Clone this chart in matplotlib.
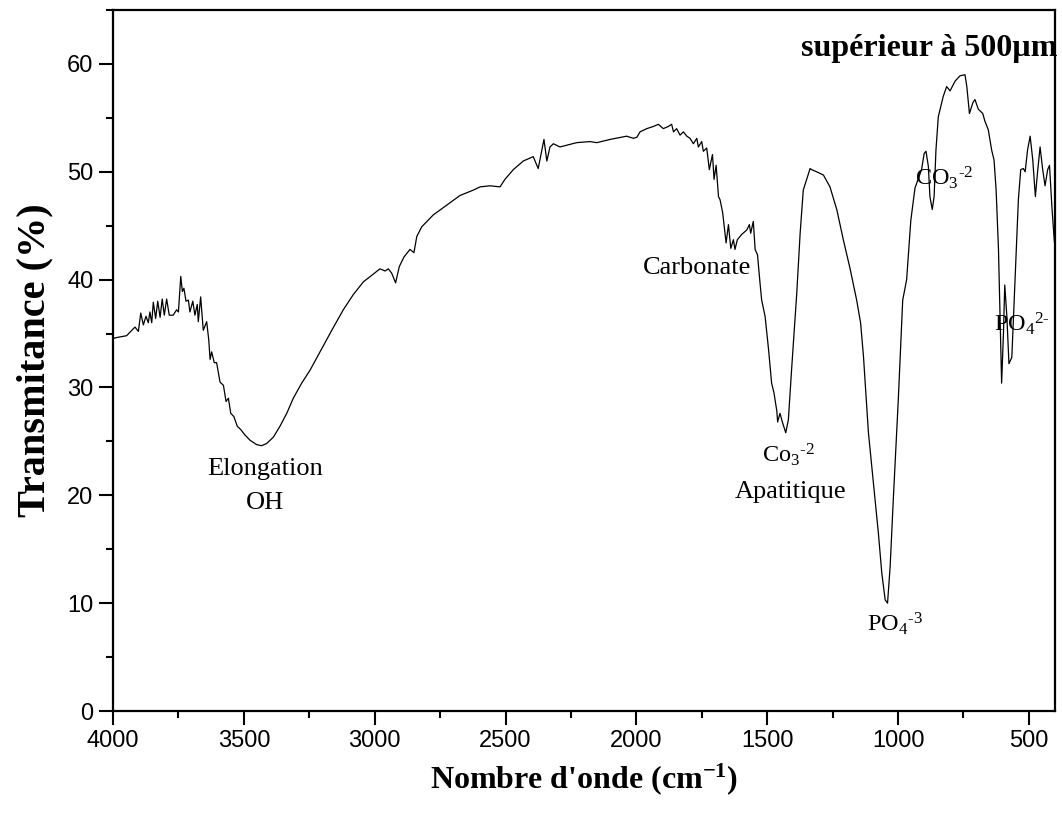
import matplotlib
matplotlib.use("Agg")
import matplotlib.pyplot as plt
from matplotlib.ticker import MultipleLocator

# ---- data ----
wavenumber = [4000, 3992, 3948, 3916, 3903, 3894, 3884, 3874, 3865, 3859, 3852, 3846, 3837, 3829,
              3820, 3812, 3804, 3795, 3785, 3770, 3757, 3750, 3741, 3735, 3729, 3721, 3712, 3706,
              3695, 3687, 3678, 3674, 3665, 3655, 3642, 3634, 3629, 3623, 3613, 3604, 3591, 3578,
              3568, 3559, 3550, 3538, 3525, 3512, 3496, 3476, 3451, 3432, 3413, 3387, 3362, 3336,
              3311, 3279, 3247, 3164, 3120, 3082, 3043, 3011, 2980, 2960, 2948, 2935, 2920, 2906,
              2888, 2865, 2850, 2839, 2820, 2776, 2725, 2674, 2623, 2597, 2559, 2521, 2502, 2470,
              2432, 2394, 2375, 2353, 2342, 2330, 2317, 2292, 2228, 2177, 2151, 2100, 2037, 2011,
              1998, 1986, 1960, 1935, 1916, 1897, 1878, 1865, 1858, 1846, 1833, 1820, 1807, 1795,
              1782, 1769, 1763, 1750, 1744, 1731, 1721, 1709, 1703, 1695, 1686, 1680, 1670, 1665,
              1657, 1648, 1639, 1629, 1623, 1614, 1597, 1578, 1568, 1563, 1553, 1546, 1537, 1527,
              1521, 1508, 1495, 1483, 1474, 1463, 1460, 1451, 1442, 1429, 1419, 1406, 1387, 1374,
              1362, 1349, 1336, 1330, 1311, 1285, 1260, 1234, 1209, 1183, 1158, 1143, 1132, 1113,
              1094, 1075, 1062, 1049, 1040, 1030, 1018, 999, 982, 967, 951, 935, 910, 900, 893,
              884, 878, 869, 862, 855, 846, 827, 814, 801, 782, 763, 744, 737, 727, 714, 706,
              693, 676, 668, 655, 642, 633, 625, 616, 610, 604, 597, 592, 584, 576, 565, 553,
              540, 531, 521, 514, 505, 495, 485, 475, 467, 457, 447, 438, 428, 421, 412, 403, 400]

transmittance = [34.5, 34.6, 34.8, 35.6, 35.2, 36.9, 35.8, 36.6, 36.0, 37.0, 36.0, 37.9, 36.4, 38.0,
                 36.5, 38.2, 36.7, 38.2, 36.7, 36.7, 37.2, 37.0, 40.3, 38.9, 39.2, 38.0, 38.1, 37.0,
                 38.0, 36.7, 37.7, 36.1, 38.4, 35.3, 36.1, 34.4, 32.6, 33.3, 32.3, 32.3, 30.5, 30.2,
                 28.7, 29.0, 27.6, 27.3, 26.4, 26.1, 25.6, 25.1, 24.7, 24.6, 24.8, 25.4, 26.4, 27.6,
                 29.0, 30.4, 31.6, 35.3, 37.2, 38.6, 39.8, 40.4, 41.0, 40.8, 41.0, 40.6, 39.7, 41.2,
                 42.1, 42.8, 42.5, 44.0, 44.9, 46.0, 46.9, 47.8, 48.3, 48.6, 48.7, 48.6, 49.3, 50.2,
                 51.0, 51.4, 50.3, 53.0, 51.0, 52.3, 52.6, 52.3, 52.7, 52.8, 52.7, 53.0, 53.3, 53.1,
                 53.2, 53.7, 54.0, 54.2, 54.4, 54.0, 54.2, 54.4, 53.7, 54.0, 53.4, 53.7, 53.3, 53.1,
                 52.6, 53.1, 52.3, 52.8, 51.9, 52.2, 50.2, 51.6, 49.3, 50.6, 47.7, 47.4, 46.2, 45.1,
                 43.4, 45.1, 42.9, 43.7, 42.8, 43.7, 44.2, 44.6, 45.1, 44.3, 45.4, 42.8, 42.3, 39.6,
                 38.1, 36.6, 33.6, 30.4, 29.5, 27.8, 26.8, 27.6, 26.8, 25.8, 27.0, 31.9, 38.7, 44.3,
                 48.3, 49.3, 50.3, 50.2, 50.0, 49.7, 48.6, 46.5, 43.7, 41.0, 38.1, 36.0, 32.9, 25.8,
                 21.1, 16.5, 12.8, 10.3, 10.0, 13.4, 19.6, 28.8, 38.1, 40.0, 45.5, 48.5, 50.2, 51.7, 51.9,
                 50.5, 47.7, 46.5, 47.7, 52.0, 55.1, 57.0, 57.9, 57.5, 58.4, 58.9, 59.0, 57.9, 55.4, 56.4, 56.7,
                 55.8, 55.4, 54.7, 53.9, 52.0, 51.1, 48.3, 42.8, 36.6, 30.4, 35.0, 39.5, 36.6, 32.2, 32.8, 39.7,
                 47.4, 50.2, 50.3, 50.0, 52.0, 53.3, 51.1, 47.7, 49.9, 52.3, 50.2, 48.7, 50.2, 50.6, 46.8, 43.7, 43.0]

x_ticks = [4000, 3500, 3000, 2500, 2000, 1500, 1000, 500]
y_ticks = [0, 10, 20, 30, 40, 50, 60]

plt.rcParams['mathtext.fontset'] = 'custom'
plt.rcParams['mathtext.rm'] = 'Liberation Serif'
plt.rcParams['mathtext.it'] = 'Liberation Serif:italic'
plt.rcParams['mathtext.bf'] = 'Liberation Serif:bold'

fig = plt.figure(figsize=(10.62, 8.21), dpi=100)
ax = fig.add_axes([113/1062, 1 - 711/821, (1055-113)/1062, (711-10)/821])

ax.plot(wavenumber, transmittance, color='black', linewidth=0.9)

ax.set_xlim(4000, 400)
ax.set_ylim(0, 65)
ax.set_xticks(x_ticks)
ax.set_yticks(y_ticks)
ax.xaxis.set_minor_locator(MultipleLocator(250))
ax.yaxis.set_minor_locator(MultipleLocator(5))
ax.tick_params(which='major', direction='out', length=10, width=1.5, labelsize=17, pad=4)
ax.tick_params(which='minor', direction='out', length=5, width=1.5)
for lab in ax.get_xticklabels() + ax.get_yticklabels():
    lab.set_family('Liberation Sans')
for s in ax.spines.values():
    s.set_linewidth(1.6)

serif = 'Liberation Serif'
ax.set_xlabel(r"Nombre d'onde (cm$^{\mathbf{-1}}$)", family=serif, fontweight='bold',
              fontsize=23, labelpad=6)
ax.set_ylabel("Transmitance (%)", family=serif, fontweight='bold', fontsize=29, labelpad=10)

ax.text(1.003, 0.945, "supérieur à 500µm", transform=ax.transAxes, ha='right', va='center',
        family=serif, fontweight='bold', fontsize=23)

word = dict(family=serif, fontsize=19, ha='center', va='center')
form = dict(family=serif, fontsize=17.5, ha='center', va='center')
ax.text(3419, 22.4, "Elongation", **word)
ax.text(3419, 19.3, "OH", **word)
ax.text(1768, 41.1, "Carbonate", **word)
ax.text(1420, 23.8, r"Co$_3$$^{\text{-2}}$", **form)
ax.text(1412, 20.3, "Apatitique", **word)
ax.text(1010, 8.1, r"PO$_4$$^{\text{-3}}$", **form)
ax.text(822, 49.4, r"CO$_3$$^{\text{-2}}$", **form)
ax.text(525, 35.9, r"PO$_4$$^{\text{2-}}$", **form)

fig.savefig("out.png", dpi=100)
